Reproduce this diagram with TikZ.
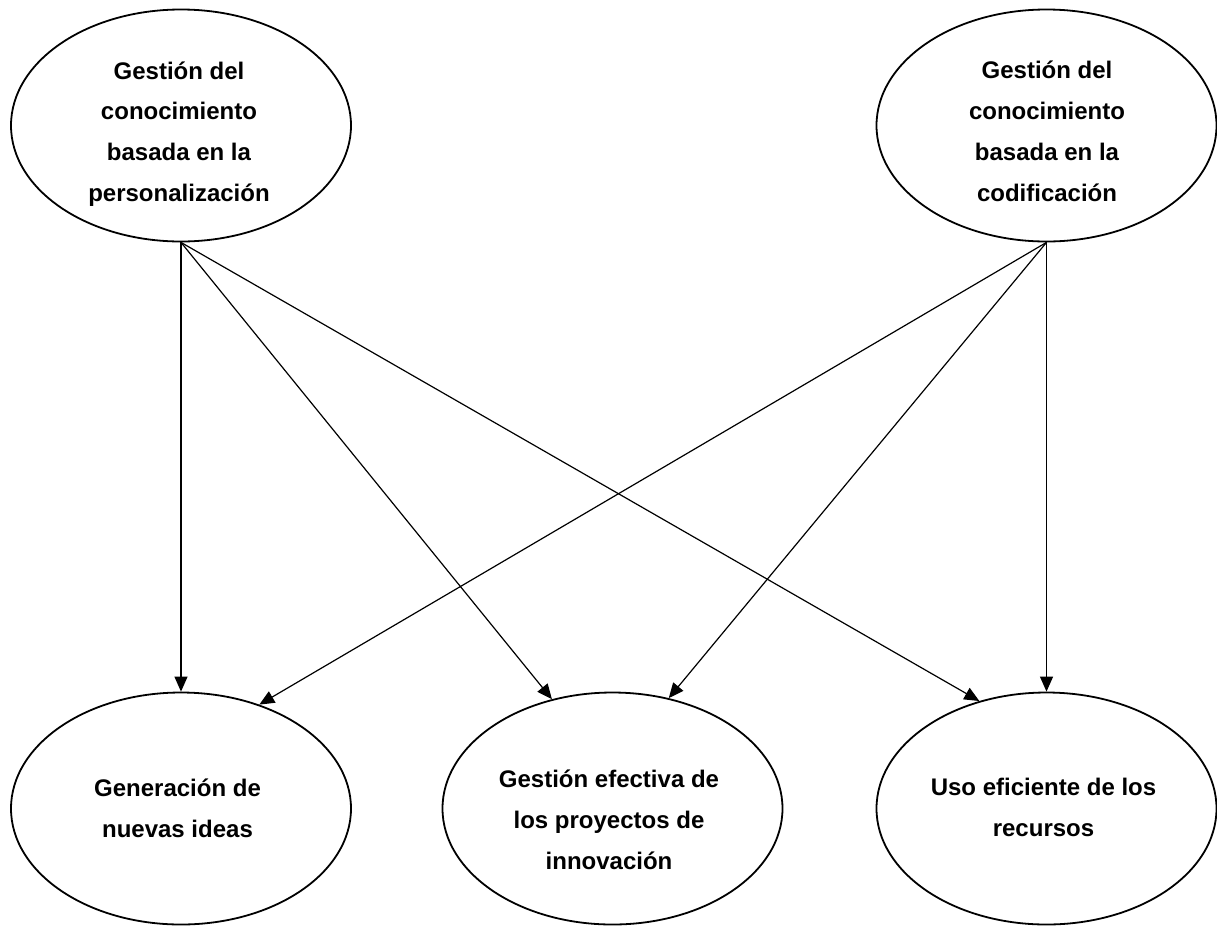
\documentclass[tikz,border=0pt]{standalone}
\usepackage{fontspec}
\setmainfont{Liberation Sans}
\usetikzlibrary{shapes.geometric,arrows.meta}

\begin{document}
\begin{tikzpicture}[x=1pt,y=-1pt,
  bubble/.style={ellipse,draw,line width=1.8pt,minimum width=340pt,
    minimum height=232pt,inner sep=0pt},
  caption/.style={align=center,inner sep=0pt,
    font=\bfseries\fontsize{24}{40.7}\selectfont},
  link/.style={line width=1.2pt,-{Triangle[length=15pt,width=13pt]}}]
\useasboundingbox (0,0) rectangle (1217,927);

% concept ellipses
\node[bubble] (tl) at (181,125.5) {};
\node[bubble] (tr) at (1046.5,125.5) {};
\node[bubble] (bl) at (181,808.5) {};
\node[bubble] (bm) at (612.5,808.5) {};
\node[bubble] (br) at (1046.5,808.5) {};

% texts
\node[caption] (tlt) at (179,133.8) {Gestión del\\conocimiento\\basada en la\\personalización};
\node[caption] (trt) at (1047,131.3) {Gestión del\\conocimiento\\basada en la\\codificación};
\node[caption] (blt) at (177.5,808.3) {Generación de\\nuevas ideas};
\node[caption] (bmt) at (609,819.8) {Gestión efectiva de\\los proyectos de\\innovación};
\node[caption] (brt) at (1043.5,807.5) {Uso eficiente de los\\recursos};

% relations
\draw[link] (tl.south) -- (bl.north);
\draw[link] (tl.south) -- (bm.119);
\draw[link] (tl.south) -- (br.122);
\draw[link] (tr.south) -- (bl.53);
\draw[link] (tr.south) -- (bm.63);
\draw[link] (tr.south) -- (br.north);
\end{tikzpicture}
\end{document}
